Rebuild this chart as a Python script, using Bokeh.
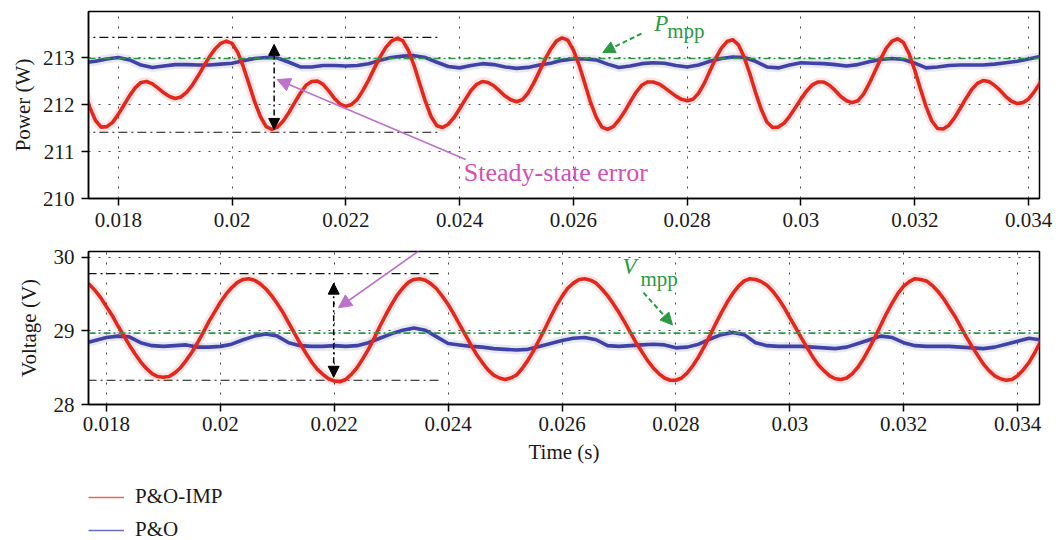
import numpy as np
from bokeh.plotting import figure
from bokeh.layouts import column
from bokeh.models import (Range1d, FixedTicker, Span, Arrow, NormalHead,
                          Label, Legend, LegendItem)
from bokeh.embed import file_html
from bokeh.resources import INLINE

# ---------------------------------------------------------------- data
# sampling instants (s)
t_fine = np.arange(174, 346) / 10000.0        # 0.0174 ... 0.0345, step 0.1 ms
t_coarse = np.arange(174, 347, 2) / 10000.0   # 0.0174 ... 0.0346, step 0.2 ms

# PV output power (W), improved P&O
power_imp = [
    212.30, 211.94, 211.66, 211.52, 211.53, 211.62, 211.79, 211.99, 212.19, 212.36,
    212.47, 212.49, 212.44, 212.35, 212.25, 212.17, 212.13, 212.16, 212.26, 212.41,
    212.60, 212.81, 213.01, 213.18, 213.30, 213.35, 213.30, 213.11, 212.80, 212.43,
    212.05, 211.74, 211.53, 211.47, 211.52, 211.65, 211.83, 212.04, 212.24, 212.41,
    212.49, 212.50, 212.43, 212.29, 212.13, 212.01, 211.96, 212.00, 212.11, 212.30,
    212.52, 212.77, 213.01, 213.21, 213.35, 213.41, 213.36, 213.15, 212.83, 212.44,
    212.06, 211.74, 211.55, 211.51, 211.58, 211.72, 211.91, 212.11, 212.30, 212.43,
    212.49, 212.47, 212.40, 212.29, 212.18, 212.10, 212.06, 212.10, 212.24, 212.45,
    212.70, 212.96, 213.18, 213.35, 213.42, 213.37, 213.16, 212.84, 212.45, 212.05,
    211.73, 211.52, 211.47, 211.53, 211.67, 211.85, 212.06, 212.26, 212.41, 212.48,
    212.48, 212.44, 212.36, 212.27, 212.18, 212.11, 212.08, 212.11, 212.24, 212.45,
    212.72, 212.98, 213.20, 213.34, 213.38, 213.27, 213.01, 212.66, 212.26, 211.90,
    211.63, 211.51, 211.52, 211.60, 211.75, 211.93, 212.12, 212.29, 212.42, 212.48,
    212.48, 212.41, 212.30, 212.17, 212.08, 212.04, 212.08, 212.22, 212.45, 212.71,
    212.97, 213.20, 213.35, 213.40, 213.32, 213.08, 212.73, 212.33, 211.95, 211.65,
    211.49, 211.48, 211.56, 211.72, 211.92, 212.13, 212.32, 212.45, 212.51, 212.49,
    212.41, 212.30, 212.17, 212.07, 212.02, 212.04, 212.12, 212.27, 212.46, 212.68,
    212.90, 213.10,
]

# PV output power (W), conventional P&O
power_po = [
    212.89, 212.92, 212.97, 213.00, 212.95, 212.84, 212.79, 212.82, 212.85, 212.85,
    212.84, 212.84, 212.86, 212.88, 212.93, 212.98, 213.00, 212.99, 212.90, 212.80,
    212.80, 212.83, 212.83, 212.82, 212.83, 212.87, 212.94, 213.00, 213.03, 213.04,
    213.00, 212.90, 212.81, 212.78, 212.83, 212.87, 212.85, 212.80, 212.77, 212.79,
    212.84, 212.88, 212.94, 212.97, 212.97, 212.95, 212.86, 212.79, 212.82, 212.87,
    212.89, 212.88, 212.83, 212.80, 212.84, 212.92, 212.98, 213.01, 213.00, 212.92,
    212.80, 212.78, 212.84, 212.89, 212.88, 212.87, 212.85, 212.82, 212.85, 212.91,
    212.96, 212.98, 212.96, 212.88, 212.78, 212.80, 212.83, 212.84, 212.84, 212.84,
    212.86, 212.89, 212.92, 212.97, 213.02, 212.75, 212.60,
]

# PV terminal voltage (V), improved P&O
voltage_imp = [
    29.70, 29.71, 29.68, 29.63, 29.55, 29.45, 29.33, 29.21, 29.07, 28.94,
    28.81, 28.69, 28.58, 28.49, 28.42, 28.38, 28.37, 28.38, 28.43, 28.50,
    28.60, 28.71, 28.84, 28.98, 29.13, 29.26, 29.39, 29.50, 29.59, 29.66,
    29.70, 29.71, 29.69, 29.64, 29.57, 29.48, 29.37, 29.25, 29.11, 28.97,
    28.83, 28.70, 28.58, 28.48, 28.41, 28.35, 28.32, 28.31, 28.34, 28.41,
    28.50, 28.62, 28.75, 28.90, 29.06, 29.21, 29.35, 29.48, 29.58, 29.66,
    29.70, 29.71, 29.69, 29.64, 29.57, 29.47, 29.36, 29.23, 29.09, 28.95,
    28.81, 28.68, 28.57, 28.47, 28.40, 28.36, 28.34, 28.36, 28.40, 28.49,
    28.60, 28.73, 28.88, 29.03, 29.19, 29.34, 29.47, 29.58, 29.65, 29.70,
    29.71, 29.69, 29.65, 29.57, 29.48, 29.37, 29.25, 29.12, 28.98, 28.84,
    28.72, 28.60, 28.50, 28.42, 28.36, 28.33, 28.33, 28.36, 28.43, 28.53,
    28.65, 28.79, 28.94, 29.10, 29.25, 29.39, 29.51, 29.61, 29.68, 29.71,
    29.70, 29.67, 29.62, 29.54, 29.44, 29.32, 29.18, 29.05, 28.91, 28.78,
    28.65, 28.54, 28.46, 28.39, 28.35, 28.34, 28.36, 28.42, 28.51, 28.63,
    28.77, 28.92, 29.08, 29.24, 29.38, 29.51, 29.61, 29.67, 29.71, 29.70,
    29.68, 29.62, 29.54, 29.44, 29.32, 29.20, 29.06, 28.92, 28.79, 28.67,
    28.55, 28.46, 28.39, 28.35, 28.33, 28.34, 28.39, 28.47, 28.57, 28.70,
    28.85, 29.00,
]

# PV terminal voltage (V), conventional P&O
voltage_po = [
    28.80, 28.83, 28.87, 28.91, 28.93, 28.92, 28.84, 28.80, 28.79, 28.80,
    28.81, 28.78, 28.78, 28.79, 28.82, 28.88, 28.93, 28.96, 28.93, 28.84,
    28.80, 28.79, 28.79, 28.80, 28.79, 28.80, 28.84, 28.90, 28.96, 29.01,
    29.04, 29.01, 28.92, 28.83, 28.81, 28.79, 28.78, 28.76, 28.75, 28.74,
    28.75, 28.79, 28.83, 28.87, 28.90, 28.91, 28.88, 28.80, 28.79, 28.80,
    28.81, 28.82, 28.81, 28.77, 28.78, 28.82, 28.89, 28.95, 28.98, 28.95,
    28.84, 28.80, 28.79, 28.79, 28.79, 28.78, 28.77, 28.76, 28.78, 28.83,
    28.88, 28.93, 28.91, 28.84, 28.80, 28.79, 28.79, 28.79, 28.78, 28.77,
    28.76, 28.78, 28.82, 28.86, 28.90, 28.88, 28.86,
]

# maximum power point references
p_mpp = 212.98
v_mpp = 28.97

# steady-state error bands of the improved method
p_band = [211.41, 213.43]
p_band_t = [0.0170, 0.02364]
v_band = [28.33, 29.78]
v_band_t = [0.0170, 0.02390]

# ticks
time_ticks = [0.018, 0.02, 0.022, 0.024, 0.026, 0.028, 0.03, 0.032, 0.034]
time_tick_labels = ["0.018", "0.02", "0.022", "0.024", "0.026", "0.028",
                    "0.03", "0.032", "0.034"]
power_ticks = [210, 211, 212, 213]
voltage_ticks = [28, 29, 30]

# ---------------------------------------------------------------- style
FONT = "Liberation Serif"
RED = "#e2281d"
BLUE = "#3f42a6"
GREEN = "#2b9a42"
PINK_TXT = "#d24fb4"
PINK_ARW = "#bb72c9"


def make_panel(x_rng, y_rng, height, left, right, top, bottom, yticks, ylabel,
               ylabel_standoff):
    p = figure(width=1059, height=height, x_range=Range1d(*x_rng),
               y_range=Range1d(*y_rng), output_backend="svg",
               toolbar_location=None, min_border_left=left,
               min_border_right=right, min_border_top=top,
               min_border_bottom=bottom)
    p.background_fill_color = "white"
    p.border_fill_color = "white"
    p.outline_line_color = "black"
    p.outline_line_width = 1.5
    p.xaxis.ticker = FixedTicker(ticks=time_ticks)
    p.xaxis.major_label_overrides = dict(zip(time_ticks, time_tick_labels))
    p.yaxis.ticker = FixedTicker(ticks=yticks)
    for ax in (p.xaxis[0], p.yaxis[0]):
        ax.axis_line_color = "black"
        ax.axis_line_width = 1.5
        ax.major_tick_line_color = "black"
        ax.major_tick_line_width = 1.5
        ax.major_tick_out = 7
        ax.major_tick_in = 0
        ax.minor_tick_line_color = None
        ax.major_label_text_font = FONT
        ax.major_label_text_font_size = "21px"
        ax.major_label_text_color = "#1a1a1a"
        ax.axis_label_text_font = FONT
        ax.axis_label_text_font_size = "21px"
        ax.axis_label_text_font_style = "normal"
        ax.axis_label_text_color = "#1a1a1a"
    p.xaxis.major_label_standoff = 5
    p.yaxis.major_label_standoff = 7
    p.yaxis.axis_label = ylabel
    p.yaxis.axis_label_standoff = ylabel_standoff
    p.grid.grid_line_color = "#444444"
    p.grid.grid_line_dash = "2 8"
    p.grid.grid_line_width = 1
    return p


# ---------------------------------------------------------------- power
pw = make_panel((0.017477, 0.034192), (210.0, 213.98), 240, 85, 16, 11, 42,
                power_ticks, "Power (W)", 5)
pw.xaxis.major_label_standoff = 7

pw.add_layout(Span(location=p_mpp, dimension="width", line_color=GREEN,
                   line_width=1.6, line_dash="7 3 2 3"))
for lvl in p_band:
    pw.line(p_band_t, [lvl, lvl], line_color="#111111", line_width=1.2,
            line_dash="9 4 2 4")

pw.line(t_coarse, power_po, line_color=BLUE, line_width=9, line_alpha=0.12)
pw.line(t_coarse, power_po, line_color=BLUE, line_width=3.6,
        line_join="round")
pw.line(t_fine, power_imp, line_color=RED, line_width=9, line_alpha=0.12)
pw.line(t_fine, power_imp, line_color=RED, line_width=3.6, line_join="round")

pw.add_layout(Arrow(start=NormalHead(size=11, fill_color="black",
                                     line_color="black"),
                    end=NormalHead(size=11, fill_color="black",
                                   line_color="black"),
                    x_start=0.02074, y_start=211.47, x_end=0.02074,
                    y_end=213.28, line_color="black", line_width=1.5,
                    line_dash="6 3 2 3"))

pw.add_layout(Arrow(end=NormalHead(size=12, fill_color=GREEN,
                                   line_color=GREEN),
                    x_start=0.027196, y_start=213.511, x_end=0.026515,
                    y_end=213.106, line_color=GREEN, line_width=2,
                    line_dash="5 3"))
pw.add_layout(Label(x=0.027422, y=213.468, text="P", text_font=FONT,
                    text_font_size="23px", text_font_style="italic",
                    text_color=GREEN))
pw.add_layout(Label(x=0.027649, y=213.319, text="mpp", text_font=FONT,
                    text_font_size="21px", text_color=GREEN))

pw.add_layout(Label(x=0.024072, y=210.255, text="Steady-state error",
                    text_font=FONT, text_font_size="26px",
                    text_color=PINK_TXT))
pw.add_layout(Arrow(end=NormalHead(size=13, fill_color=PINK_ARW,
                                   line_color=PINK_ARW),
                    x_start=0.024107, y_start=210.83, x_end=0.020792,
                    y_end=212.532, line_color=PINK_ARW, line_width=1.6))

# ---------------------------------------------------------------- voltage
vt = make_panel((0.017684, 0.034386), (28.0, 30.08), 235, 88, 20, 11, 71,
                voltage_ticks, "Voltage (V)", 10)
vt.xaxis.axis_label = "Time (s)"
vt.xaxis.axis_label_standoff = 6

vt.add_layout(Span(location=v_mpp, dimension="width", line_color=GREEN,
                   line_width=1.6, line_dash="7 3 2 3"))
for lvl in v_band:
    vt.line(v_band_t, [lvl, lvl], line_color="#111111", line_width=1.2,
            line_dash="9 4 2 4")

vt.line(t_coarse, voltage_po, line_color=BLUE, line_width=9, line_alpha=0.12)
vt.line(t_coarse, voltage_po, line_color=BLUE, line_width=3.6,
        line_join="round")
vt.line(t_fine, voltage_imp, line_color=RED, line_width=9, line_alpha=0.12)
vt.line(t_fine, voltage_imp, line_color=RED, line_width=3.6,
        line_join="round")

vt.add_layout(Arrow(start=NormalHead(size=11, fill_color="black",
                                     line_color="black"),
                    end=NormalHead(size=11, fill_color="black",
                                   line_color="black"),
                    x_start=0.02199, y_start=28.37, x_end=0.02199,
                    y_end=29.65, line_color="black", line_width=1.5,
                    line_dash="6 3 2 3"))

vt.add_layout(Arrow(end=NormalHead(size=12, fill_color=GREEN,
                                   line_color=GREEN),
                    x_start=0.027431, y_start=29.521, x_end=0.02794,
                    y_end=29.082, line_color=GREEN, line_width=2,
                    line_dash="5 3"))
vt.add_layout(Label(x=0.027062, y=29.712, text="V", text_font=FONT,
                    text_font_size="23px", text_font_style="italic",
                    text_color=GREEN))
vt.add_layout(Label(x=0.027378, y=29.548, text="mpp", text_font=FONT,
                    text_font_size="21px", text_color=GREEN))

# lower part of the "Steady-state error" pointer
vt.add_layout(Arrow(end=NormalHead(size=13, fill_color=PINK_ARW,
                                   line_color=PINK_ARW),
                    x_start=0.023982, y_start=30.36, x_end=0.022074,
                    y_end=29.315, line_color=PINK_ARW, line_width=1.6))

# ---------------------------------------------------------------- legend
# The series are drawn again here outside the visible y window, only so
# that the legend gets thin swatches of the right colours.
lg = figure(width=1059, height=65, x_range=Range1d(0, 1),
            y_range=Range1d(0, 1), x_axis_type=None, y_axis_type=None,
            output_backend="svg", toolbar_location=None, min_border_left=88,
            min_border_top=9, min_border_right=0, min_border_bottom=0)
lg.outline_line_color = None
lg.background_fill_color = "white"
lg.border_fill_color = "white"
sw_imp = lg.line(t_fine, voltage_imp, line_color="#e6675c", line_width=1.6)
sw_po = lg.line(t_coarse, voltage_po, line_color="#6a6dc4", line_width=1.6)
legend = Legend(items=[LegendItem(label="P&O-IMP", renderers=[sw_imp]),
                       LegendItem(label="P&O", renderers=[sw_po])],
                location="top_left", orientation="vertical",
                label_text_font=FONT, label_text_font_size="21px",
                label_text_color="#1a1a1a", glyph_width=36, glyph_height=22,
                label_standoff=11, spacing=8, padding=0, margin=0,
                border_line_alpha=0, background_fill_alpha=0)
lg.add_layout(legend)

layout = column(pw, vt, lg, spacing=0)
open("out.html", "w").write(file_html(layout, INLINE))
